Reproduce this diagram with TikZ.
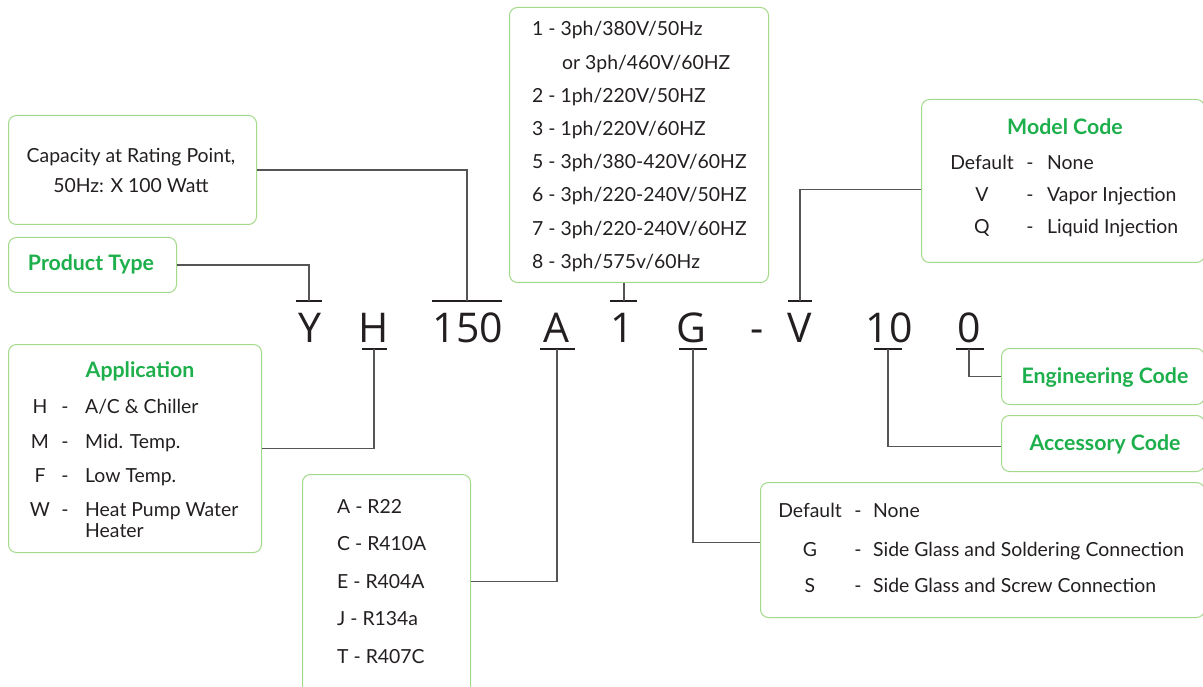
\documentclass[tikz,border=0pt]{standalone}
\usepackage{fontspec}
\setmainfont{Lato}
\newfontfamily\codefont{Open Sans}
\usetikzlibrary{positioning}
\definecolor{boxgreen}{HTML}{A3D98A}
\definecolor{titlegreen}{HTML}{1DAF4B}
\definecolor{inkgray}{HTML}{231F20}
\definecolor{wiregray}{HTML}{555555}

\begin{document}
\begin{tikzpicture}[x=1pt, y=-1pt,
    infobox/.style={draw=boxgreen, line width=1pt, rounded corners=8pt, anchor=north west, inner sep=0pt},
    body/.style={font=\fontsize{19.4}{23}\selectfont, text=inkgray, inner sep=0pt},
    title/.style={font=\fontsize{21.3}{24}\selectfont\bfseries, text=titlegreen, inner sep=0pt, anchor=base},
    code/.style={font=\codefont\fontsize{41}{48}\selectfont, text=inkgray, inner sep=0pt, anchor=base},
    wire/.style={draw=wiregray, line width=1.1pt},
    tick/.style={draw=inkgray, line width=1.1pt}]
    \useasboundingbox (0,0) rectangle (1203,687);

    % boxes
    \node[infobox, minimum width=248pt, minimum height=109pt] (capbox) at (8,115) {};
    \node[infobox, minimum width=168pt, minimum height=55pt] (typebox) at (8,237) {};
    \node[infobox, minimum width=259pt, minimum height=275pt] (voltbox) at (509,7) {};
    \node[infobox, minimum width=283pt, minimum height=163pt] (modelbox) at (921,99) {};
    \node[infobox, minimum width=253pt, minimum height=208pt] (appbox) at (8,344) {};
    \node[infobox, minimum width=168pt, minimum height=240pt] (refbox) at (302,474) {};
    \node[infobox, minimum width=444pt, minimum height=135pt] (connbox) at (760,482) {};
    \node[infobox, minimum width=203pt, minimum height=56pt] (engbox) at (1001,348) {};
    \node[infobox, minimum width=203pt, minimum height=56pt] (accbox) at (1001,415) {};

    % model number
    \foreach \cx/\ch [count=\k] in {310/Y, 374/H, 468/150, 556/A, 622/1, 691/G, 757/-, 800/V, 889/10, 969/0}
        \node[code] (code\k) at (\cx,342) {\ch};

    % ticks above and below
    \draw[tick] (296,301) -- (322,301);
    \draw[tick] (432,301) -- (502,301);
    \draw[tick] (610,301) -- (637,301);
    \draw[tick] (788,301) -- (812,301);
    \draw[tick] (362,349) -- (387,349);
    \draw[tick] (540,349) -- (575,349);
    \draw[tick] (679,349) -- (707,349);
    \draw[tick] (874,349) -- (902,349);
    \draw[tick] (956,349) -- (984,349);
    \coordinate (tY) at (309,301);
    \coordinate (t150) at (467,301);
    \coordinate (t1) at (624,301);
    \coordinate (tV) at (800,301);
    \coordinate (tH) at (374,349);
    \coordinate (tA) at (557,349);
    \coordinate (tG) at (693,349);
    \coordinate (t10) at (888,349);
    \coordinate (t0) at (969,349);

    % connectors
    \draw[wire] (typebox.east) -| (tY);
    \draw[wire] (capbox.east) -| (t150);
    \draw[wire] (voltbox.south -| t1) -- (t1);
    \draw[wire] ([yshift=-8.5pt]modelbox.west) -| (tV);
    \draw[wire] (appbox.east) -| (tH);
    \draw[wire] ([yshift=13pt]refbox.east) -| (tA);
    \draw[wire] ([yshift=7.5pt]connbox.west) -| (tG);
    \draw[wire] (engbox.west) -| (t0);
    \draw[wire] ([yshift=-3pt]accbox.west) -| (t10);

    % capacity
    \node[body, anchor=base] (cap1) at (131,163) {Capacity at Rating Point,};
    \node[body, anchor=base] (cap2) at (131,193) {50Hz: X 100 Watt};
    \node[title] (typetxt) at (91,271) {Product Type};

    % power supply
    \foreach \txt [count=\k from 0] in {1 - 3ph/380V/50Hz, \hspace*{30pt}or 3ph/460V/60HZ,
        2 - 1ph/220V/50HZ, 3 - 1ph/220V/60HZ, 5 - 3ph/380-420V/60HZ,
        6 - 3ph/220-240V/50HZ, 7 - 3ph/220-240V/60HZ, 8 - 3ph/575v/60Hz}
        \node[body, anchor=base west] (volt\k) at (532,36+33.2*\k) {\txt};

    % model code
    \node[title] (modeltxt) at (1065,135) {Model Code};
    \foreach \key/\val/\yy [count=\k] in {Default/None/170, V/Vapor Injection/202, Q/Liquid Injection/234} {
        \node[body, anchor=base] (mkey\k) at (982,\yy) {\key};
        \node[body, anchor=base] (mdash\k) at (1030,\yy) {-};
        \node[body, anchor=base west] (mval\k) at (1047,\yy) {\val};
    }

    % application
    \node[title] (apptxt) at (140,377) {Application};
    \foreach \key/\val/\yy [count=\k] in {H/{A/C \& Chiller}/413, M/Mid. Temp./448, F/Low Temp./482, W/Heat Pump Water/516} {
        \node[body, anchor=base] (akey\k) at (40,\yy) {\key};
        \node[body, anchor=base] (adash\k) at (65,\yy) {-};
        \node[body, anchor=base west] (aval\k) at (85,\yy) {\val};
    }
    \node[body, anchor=base west] (aval5) at (85,537) {Heater};

    % refrigerant
    \foreach \txt [count=\k from 0] in {A - R22, C - R410A, E - R404A, J - R134a, T - R407C}
        \node[body, anchor=base west] (ref\k) at (337,513+37.5*\k) {\txt};

    % connection
    \foreach \key/\val/\yy [count=\k] in {Default/None/517, G/Side Glass and Soldering Connection/556, S/Side Glass and Screw Connection/592} {
        \node[body, anchor=base] (ckey\k) at (810,\yy) {\key};
        \node[body, anchor=base] (cdash\k) at (858,\yy) {-};
        \node[body, anchor=base west] (cval\k) at (873,\yy) {\val};
    }

    \node[title] (engtxt) at (1105,383) {Engineering Code};
    \node[title] (acctxt) at (1105,450) {Accessory Code};
\end{tikzpicture}
\end{document}
